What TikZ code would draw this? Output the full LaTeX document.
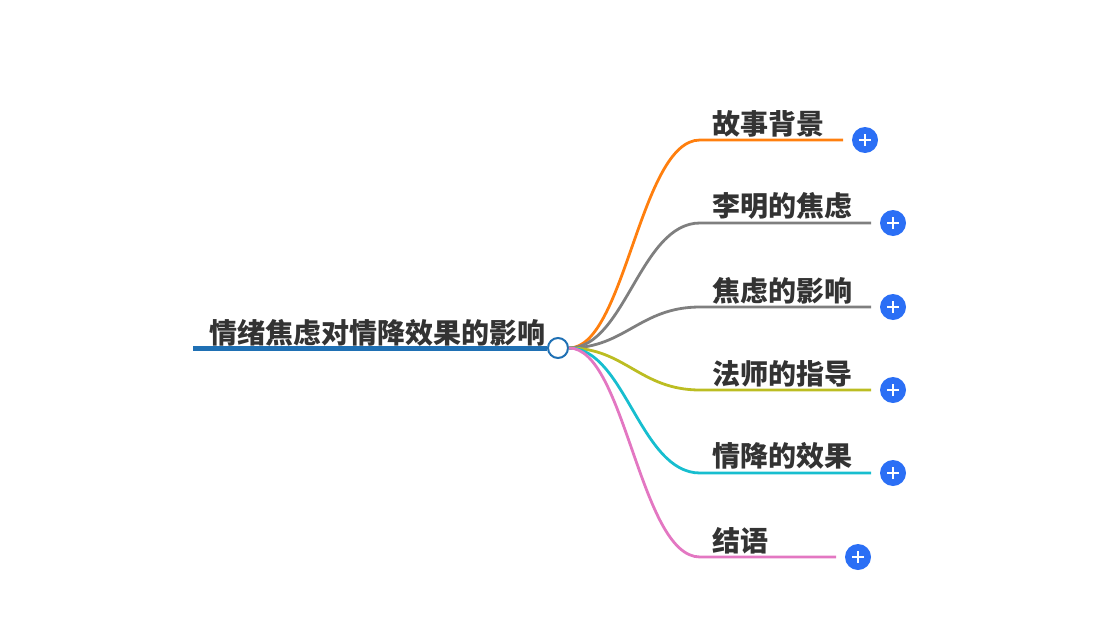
\documentclass[tikz,border=0pt]{standalone}
\usepackage{fontspec}
\setmainfont{Noto Sans CJK SC}
\usetikzlibrary{positioning}
\definecolor{rootblue}{HTML}{1F70B4}
\definecolor{cOrange}{HTML}{FF7F0E}
\definecolor{cGray}{HTML}{7F7F7F}
\definecolor{cOlive}{HTML}{BCBD22}
\definecolor{cCyan}{HTML}{17BECF}
\definecolor{cPink}{HTML}{E377C2}
\definecolor{plusblue}{HTML}{2B6FF5}
\definecolor{txt}{HTML}{333333}
\tikzset{
  label/.style={font=\fontsize{28}{31}\selectfont\bfseries, text=txt, inner sep=0pt, anchor=south west},
  plus/.style={circle, fill=plusblue, minimum size=26pt, inner sep=0pt},
  branch/.style={line width=2.8pt},
}
\begin{document}
\begin{tikzpicture}[x=1pt,y=-1pt]
\useasboundingbox (0,0) rectangle (1097,621);
% root
\coordinate (rootL) at (193,348);
\node[circle, draw=rootblue, fill=white, line width=2pt, minimum size=20pt, inner sep=0pt] (hub) at (558,348) {};
\draw[rootblue, line width=5pt] (rootL) -- (hub.west);
\node[label, anchor=south] (roottext) at (377,347) {情绪焦虑对情降效果的影响};
% branches
\foreach \n/\y/\e/\c/\t in {b1/140/843/cOrange/故事背景,
                              b2/223/871/cGray/李明的焦虑,
                              b3/307/871/cGray/焦虑的影响,
                              b4/390/871/cOlive/法师的指导,
                              b5/473/871/cCyan/情降的效果,
                              b6/557/836/cPink/结语}{
  \coordinate (\n s) at (700,\y);
  \coordinate (\n e) at (\e,\y);
  \draw[branch, \c] (hub.east) .. controls (625,348) and (640,\y) .. (\n s) -- (\n e);
  \node[label] (\n t) at (712,\y-3) {\t};
  \node[plus] (\n p) at ([xshift=22pt]\n e) {};
  \draw[white, line width=2pt] ([xshift=-6pt]\n p.center) -- ([xshift=6pt]\n p.center)
        ([yshift=-6pt]\n p.center) -- ([yshift=6pt]\n p.center);
}
\end{tikzpicture}
\end{document}
